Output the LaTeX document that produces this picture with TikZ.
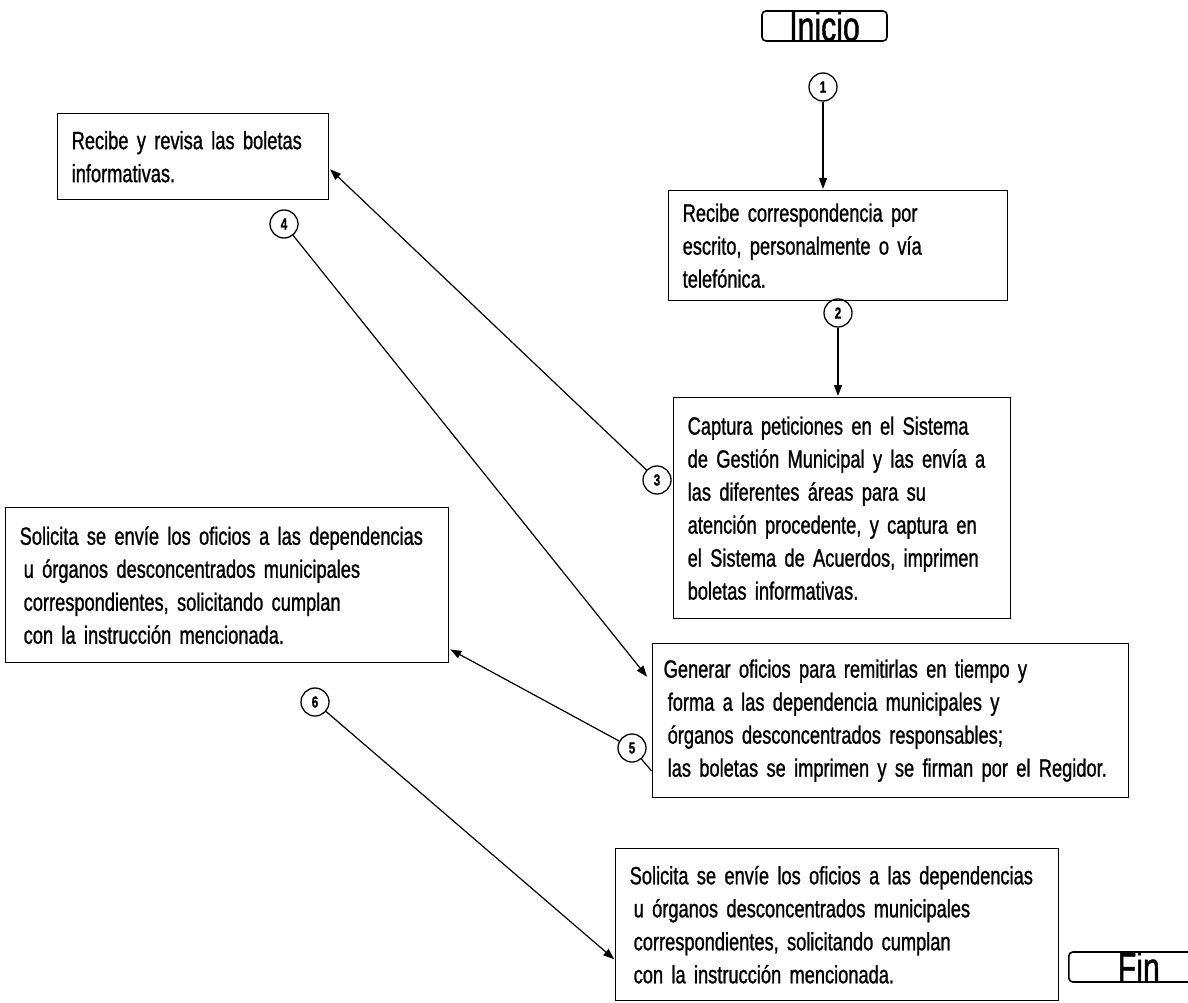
\documentclass[tikz,border=0pt]{standalone}
\usepackage{fontspec}
\setmainfont{Liberation Sans}[FakeStretch=0.73, FakeBold=1]
\newfontfamily\extremofont{Liberation Sans}[FakeStretch=0.72, FakeBold=1]
\newcommand\cajafont{\fontsize{25}{33}\selectfont\spaceskip=4.5pt plus 1pt minus 1pt\relax}
\usetikzlibrary{arrows.meta, positioning}

\begin{document}
\begin{tikzpicture}[x=1pt, y=-1pt, shorten >=1pt, line width=1.2pt,
    >={Triangle[length=11pt, width=8pt]},
    caja/.style={draw, line width=1.4pt, anchor=north west, align=left,
      inner xsep=14pt, inner ysep=8pt, font=\cajafont},
    paso/.style={draw, circle, line width=1.3pt, minimum size=28pt, inner sep=0pt,
      font=\fontsize{16}{16}\selectfont\bfseries},
    extremo/.style={draw, rounded corners=4pt, line width=1.6pt, inner sep=0pt,
      minimum height=30pt, text height=30pt, text depth=0pt,
      font=\extremofont\fontsize{42}{42}\selectfont}]

    \fill[white] (0,0) rectangle (1188,1003);
    \useasboundingbox (0,0) rectangle (1188,1003);
    \clip (0,0) rectangle (1188,1003);

    % Inicio y fin
    \node[extremo, minimum width=125pt] (inicio) at (824.5,26) {Inicio};
    \node[extremo, minimum width=140pt, anchor=west] (fin) at (1068,967) {Fin};

    % Actividades
    \node[caja, text width=311pt, minimum height=110pt] (recibe) at (668,190)
        {Recibe correspondencia por\\escrito, personalmente o vía\\telefónica.};
    \node[caja, text width=309pt, minimum height=221pt] (captura) at (673,397)
        {Captura peticiones en el Sistema\\de Gestión Municipal y las envía a\\las diferentes áreas para su\\atención procedente, y captura en\\el Sistema de Acuerdos, imprimen\\boletas informativas.};
    \node[caja, text width=243pt, minimum height=86pt] (revisa) at (57,113)
        {Recibe y revisa las boletas\\informativas.};
    \node[caja, text width=454pt, inner xsep=11pt, minimum height=154pt] (generar) at (652,643)
        {Generar oficios para remitirlas en tiempo y\\\hspace*{4pt}forma a las dependencia municipales y\\\hspace*{4pt}órganos desconcentrados responsables;\\\mbox{\hspace*{4pt}las boletas se imprimen y se firman por el Regidor.}};
    \node[caja, text width=415pt, minimum height=155pt] (solicita) at (5,507)
        {Solicita se envíe los oficios a las dependencias\\\hspace*{4pt}u órganos desconcentrados municipales\\\hspace*{4pt}correspondientes, solicitando cumplan\\\hspace*{4pt}con la instrucción mencionada.};
    \node[caja, text width=415pt, minimum height=152pt] (solicita2) at (615,848)
        {Solicita se envíe los oficios a las dependencias\\\hspace*{4pt}u órganos desconcentrados municipales\\\hspace*{4pt}correspondientes, solicitando cumplan\\\hspace*{4pt}con la instrucción mencionada.};

    % Pasos numerados
    \node[paso] (p1) at (823,87) {1};
    \node[paso] (p2) at (838,313) {2};
    \node[paso] (p3) at (657,480) {3};
    \node[paso] (p4) at (284,224) {4};
    \node[paso] (p5) at (632,748) {5};
    \node[paso] (p6) at (315,702) {6};

    % Flechas
    \path[->]
    (p1) edge (p1 |- recibe.north)
    (p2) edge (p2 |- captura.north)
    (p3) edge (revisa.-5)
    (p4) edge[shorten >=8pt] (generar.171)
    (p5) edge (solicita.-16)
    (p6) edge (solicita2.189);
    \draw (p5) -- (generar.192);

\end{tikzpicture}
\end{document}
